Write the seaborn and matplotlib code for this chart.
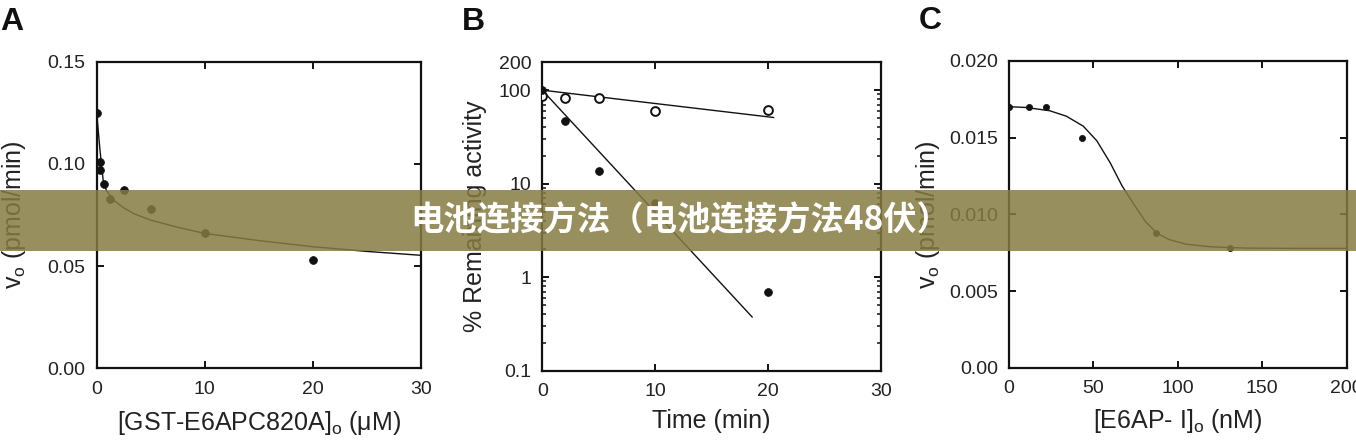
import numpy as np
import pandas as pd
import matplotlib
matplotlib.use("Agg")
import matplotlib.pyplot as plt
from matplotlib.patches import Rectangle
from matplotlib.ticker import LogLocator, NullFormatter, FixedLocator
import seaborn as sns

# ---------------- data ----------------
# Panel A
a_x = [0, 0.3, 0.3, 0.7, 1.25, 2.5, 5, 10, 20]
a_y = [0.125, 0.097, 0.101, 0.090, 0.083, 0.087, 0.078, 0.066, 0.053]
a_fit_x = [0, 0.3, 0.6, 0.9, 1.5, 2.5, 3.5, 5, 7.5, 10, 15, 20, 25, 30]
a_fit_y = [0.125, 0.107, 0.092, 0.087, 0.0825, 0.0785, 0.0755, 0.0725,
           0.069, 0.066, 0.0625, 0.0595, 0.0572, 0.0553]
a_xticks = [0, 10, 20, 30]
a_yticks = [0.00, 0.05, 0.10, 0.15]
a_yticklabels = ["0.00", "0.05", "0.10", "0.15"]

# Panel B
b_t_open = [0, 2, 5, 10, 20]
b_open = [86, 83, 82, 60, 61]
b_t_closed = [0, 2, 5, 10, 20]
b_closed = [100, 47, 13.6, 6.2, 0.70]
b_open_fit_x = [0, 20.5]
b_open_fit_y = [100, 51]
b_closed_fit_x = [0, 18.6]
b_closed_fit_y = [100, 0.374]
b_xticks = [0, 10, 20, 30]
b_yticks = [0.1, 1, 10, 100, 200]
b_yticklabels = ["0.1", "1", "10", "100", "200"]

# Panel C
c_x = [0, 12, 22, 43, 87, 131]
c_y = [0.0170, 0.0170, 0.0170, 0.0150, 0.0088, 0.0078]
c_fit_x = [0, 10, 24, 34, 44, 52, 60, 67, 74, 81, 88, 95, 105, 120, 140, 170, 200]
c_fit_y = [0.01702, 0.01697, 0.01676, 0.01640, 0.01575, 0.01480, 0.01335,
           0.01185, 0.01065, 0.00950, 0.00875, 0.00835, 0.00805, 0.00788,
           0.00780, 0.00778, 0.00778]
c_xticks = [0, 50, 100, 150, 200]
c_yticks = [0.000, 0.005, 0.010, 0.015, 0.020]
c_yticklabels = ["0.00", "0.005", "0.010", "0.015", "0.020"]

banner_text = "电池连接方法（电池连接方法48伏）"

# ---------------- style ----------------
sns.set_style("ticks")
plt.rcParams["font.family"] = ["Liberation Sans", "DejaVu Sans"]
plt.rcParams["mathtext.fontset"] = "custom"
plt.rcParams["mathtext.rm"] = "Liberation Sans"
plt.rcParams["mathtext.it"] = "Liberation Sans:italic"
plt.rcParams["text.color"] = "#222222"
plt.rcParams["axes.labelcolor"] = "#222222"
plt.rcParams["xtick.color"] = "#111111"
plt.rcParams["ytick.color"] = "#111111"

fig = plt.figure(figsize=(13.56, 4.42), dpi=100)
axA = fig.add_axes([0.0713, 0.1667, 0.2389, 0.6937])
axB = fig.add_axes([0.3999, 0.1613, 0.2498, 0.6984])
axC = fig.add_axes([0.7441, 0.1681, 0.2490, 0.6939])

line_kw = dict(color="#111111", linewidth=1.0, estimator=None, sort=False)


def style_axes(ax):
    for s in ax.spines.values():
        s.set_linewidth(1.6)
        s.set_color("#111111")
    ax.tick_params(which="major", direction="in", length=5, width=1.4,
                   top=True, right=True, labelsize=14, labelcolor="#222222")
    ax.tick_params(axis="y", which="major", pad=8)
    ax.tick_params(axis="x", which="major", pad=9)
    ax.tick_params(which="minor", direction="in", length=3, width=1.1,
                   top=True, right=True)


# ---- Panel A ----
sns.lineplot(x=a_fit_x, y=a_fit_y, ax=axA, **line_kw)
sns.scatterplot(x=a_x, y=a_y, ax=axA, color="#111111", s=32,
                edgecolor="#111111", linewidth=0.5, zorder=3)
axA.set_xlim(0, 30)
axA.set_ylim(0, 0.15)
axA.set_xticks(a_xticks)
axA.set_yticks(a_yticks)
axA.set_yticklabels(a_yticklabels)
style_axes(axA)
axA.set_xlabel(r"[GST-E6APC820A]$_\mathrm{o}$ (μM)", fontsize=18, labelpad=8)
axA.set_ylabel(r"v$_\mathrm{o}$ (pmol/min)", fontsize=18, labelpad=14)

# ---- Panel B ----
sns.lineplot(x=b_open_fit_x, y=b_open_fit_y, ax=axB, **line_kw)
sns.lineplot(x=b_closed_fit_x, y=b_closed_fit_y, ax=axB, **line_kw)
sns.scatterplot(x=b_t_open, y=b_open, ax=axB, facecolor="white",
                edgecolor="#111111", linewidth=1.4, s=40, zorder=3)
sns.scatterplot(x=b_t_closed, y=b_closed, ax=axB, color="#111111", s=32,
                edgecolor="#111111", linewidth=0.5, zorder=4)
axB.set_yscale("log")
axB.set_xlim(0, 30)
axB.set_ylim(0.1, 200)
axB.set_xticks(b_xticks)
axB.yaxis.set_major_locator(FixedLocator(b_yticks))
axB.set_yticklabels(b_yticklabels)
axB.yaxis.set_minor_locator(LogLocator(base=10, subs=np.arange(2, 10)))
axB.yaxis.set_minor_formatter(NullFormatter())
style_axes(axB)
axB.set_xlabel("Time (min)", fontsize=18, labelpad=6)
axB.set_ylabel("% Remaining activity", fontsize=18, labelpad=8)

# ---- Panel C ----
sns.lineplot(x=c_fit_x, y=c_fit_y, ax=axC, **line_kw)
sns.scatterplot(x=c_x, y=c_y, ax=axC, color="#111111", s=20,
                edgecolor="#111111", linewidth=0.5, zorder=3)
axC.set_xlim(0, 200)
axC.set_ylim(0, 0.020)
axC.set_xticks(c_xticks)
axC.set_yticks(c_yticks)
axC.set_yticklabels(c_yticklabels)
style_axes(axC)
axC.set_xlabel(r"[E6AP- I]$_\mathrm{o}$ (nM)", fontsize=18, labelpad=7)
axC.set_ylabel(r"v$_\mathrm{o}$ (pmol/min)", fontsize=18, labelpad=5)

# ---- panel letters ----
fig.text(0 / 1356, 1 - 30 / 442, "A", fontsize=23, fontweight="bold",
         va="baseline", ha="left", color="#111111")
fig.text(462 / 1356, 1 - 30 / 442, "B", fontsize=23, fontweight="bold",
         va="baseline", ha="left", color="#111111")
fig.text(919 / 1356, 1 - 29 / 442, "C", fontsize=23, fontweight="bold",
         va="baseline", ha="left", color="#111111")

# ---- banner overlay ----
band = Rectangle((0, (442 - 251) / 442), 1, 61 / 442, transform=fig.transFigure,
                 facecolor="#867b43", alpha=0.85, edgecolor="none", zorder=10)
fig.add_artist(band)
fig.text(680 / 1356, 1 - 221 / 442, banner_text, fontsize=24, fontweight="bold",
         color="white", ha="center", va="center", zorder=11,
         family=["Noto Sans CJK SC", "DejaVu Sans"])

fig.savefig("out.png", dpi=100)
